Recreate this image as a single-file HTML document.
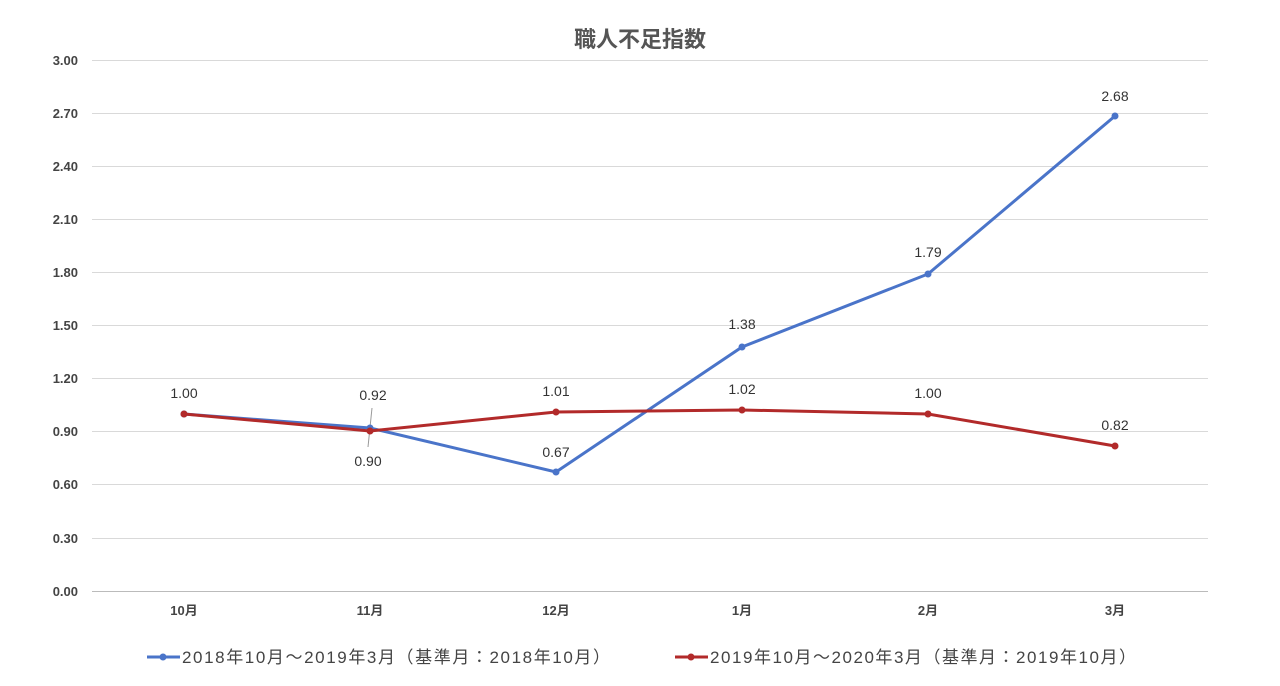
<!DOCTYPE html>
<html><head><meta charset="utf-8"><style>
body{margin:0;background:#fff;}
svg text{font-family:"Liberation Sans","Noto Sans CJK JP",sans-serif;}
</style></head><body>
<svg width="1280" height="681" viewBox="0 0 1280 681" xmlns="http://www.w3.org/2000/svg">
<text x="640" y="47" text-anchor="middle" font-size="22" font-weight="bold" fill="#555">職人不足指数</text>
<g stroke="#d9d9d9" stroke-width="1">
<line x1="92" x2="1208" y1="60.5" y2="60.5"/><line x1="92" x2="1208" y1="113.5" y2="113.5"/>
<line x1="92" x2="1208" y1="166.5" y2="166.5"/><line x1="92" x2="1208" y1="219.5" y2="219.5"/>
<line x1="92" x2="1208" y1="272.5" y2="272.5"/><line x1="92" x2="1208" y1="325.5" y2="325.5"/>
<line x1="92" x2="1208" y1="378.5" y2="378.5"/><line x1="92" x2="1208" y1="431.5" y2="431.5"/>
<line x1="92" x2="1208" y1="484.5" y2="484.5"/><line x1="92" x2="1208" y1="538.5" y2="538.5"/>
</g>
<line x1="92" x2="1208" y1="591.5" y2="591.5" stroke="#bbb"/>
<g font-size="13" fill="#444" text-anchor="end" font-weight="bold">
<text x="78" y="65">3.00</text><text x="78" y="118">2.70</text><text x="78" y="171">2.40</text>
<text x="78" y="224">2.10</text><text x="78" y="277">1.80</text><text x="78" y="330">1.50</text>
<text x="78" y="383">1.20</text><text x="78" y="436">0.90</text><text x="78" y="489">0.60</text>
<text x="78" y="543">0.30</text><text x="78" y="596">0.00</text>
</g>
<g font-size="13" fill="#444" text-anchor="middle" font-weight="bold">
<text x="184" y="615">10月</text><text x="370" y="615">11月</text><text x="556" y="615">12月</text>
<text x="742" y="615">1月</text><text x="928" y="615">2月</text><text x="1115" y="615">3月</text>
</g>
<line x1="372" y1="408" x2="368" y2="447" stroke="#999" stroke-width="1"/>
<polyline fill="none" stroke="#4a74c9" stroke-width="3" points="184,414 370,428 556,472 742,347 928,274 1115,116"/>
<g fill="#4a74c9"><circle cx="184" cy="414" r="3.5"/><circle cx="370" cy="428" r="3.5"/><circle cx="556" cy="472" r="3.5"/><circle cx="742" cy="347" r="3.5"/><circle cx="928" cy="274" r="3.5"/><circle cx="1115" cy="116" r="3.5"/></g>
<polyline fill="none" stroke="#b22a2a" stroke-width="3" points="184,414 370,431 556,412 742,410 928,414 1115,446"/>
<g fill="#b22a2a"><circle cx="184" cy="414" r="3.5"/><circle cx="370" cy="431" r="3.5"/><circle cx="556" cy="412" r="3.5"/><circle cx="742" cy="410" r="3.5"/><circle cx="928" cy="414" r="3.5"/><circle cx="1115" cy="446" r="3.5"/></g>
<g font-size="14" fill="#333" text-anchor="middle">
<text x="184" y="398">1.00</text><text x="373" y="400">0.92</text><text x="556" y="457">0.67</text>
<text x="742" y="329">1.38</text><text x="928" y="257">1.79</text><text x="1115" y="101">2.68</text>
<text x="368" y="466">0.90</text><text x="556" y="396">1.01</text><text x="742" y="394">1.02</text>
<text x="928" y="398">1.00</text><text x="1115" y="430">0.82</text>
</g>
<line x1="147" x2="180" y1="657" y2="657" stroke="#4a74c9" stroke-width="3"/><circle cx="163" cy="657" r="3.5" fill="#4a74c9"/>
<text x="182" y="663" font-size="17" fill="#444" textLength="428" lengthAdjust="spacing">2018年10月～2019年3月（基準月：2018年10月）</text>
<line x1="675" x2="708" y1="657" y2="657" stroke="#b22a2a" stroke-width="3"/><circle cx="691" cy="657" r="3.5" fill="#b22a2a"/>
<text x="710" y="663" font-size="17" fill="#444" textLength="426" lengthAdjust="spacing">2019年10月～2020年3月（基準月：2019年10月）</text>
</svg>
</body></html>
